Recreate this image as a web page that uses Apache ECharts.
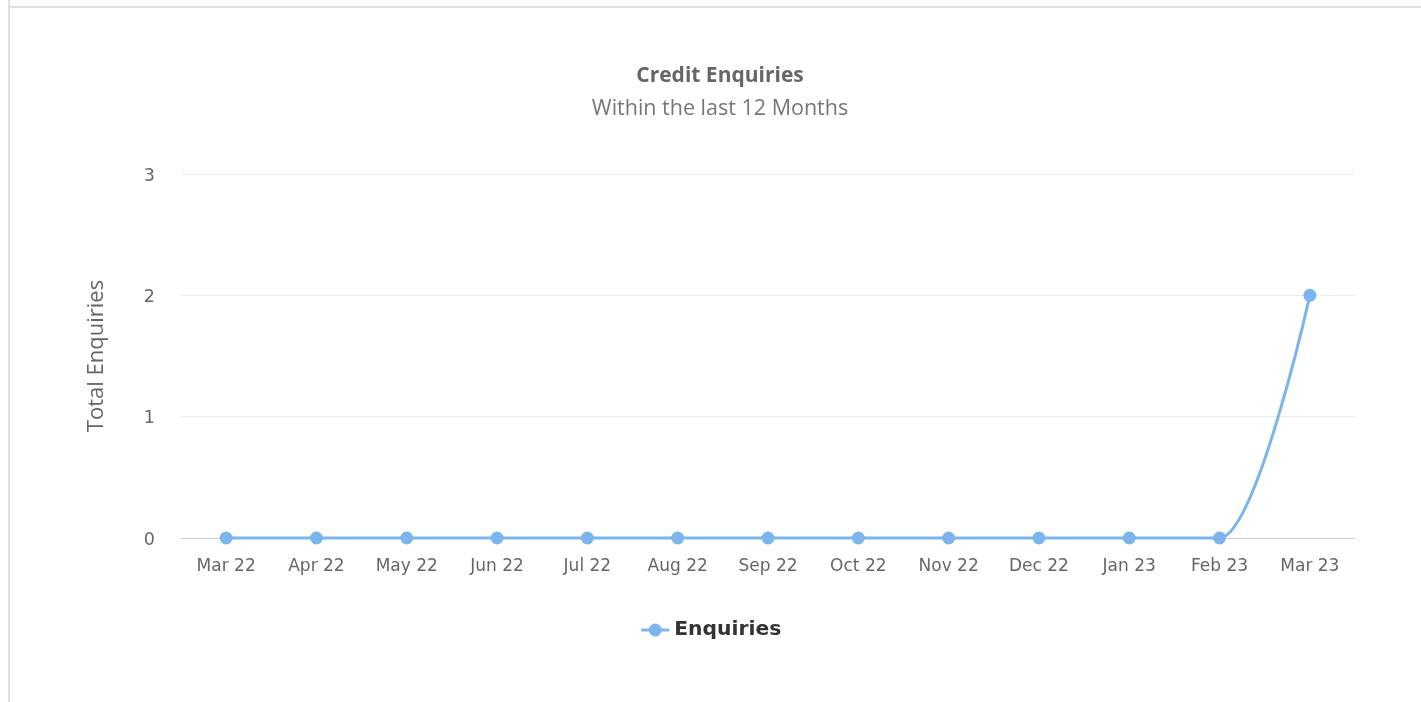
<!DOCTYPE html>
<html><head><meta charset="utf-8">
<script src="https://cdn.jsdelivr.net/npm/echarts@6/dist/echarts.min.js"></script>
<style>
html,body{margin:0;padding:0;background:#fff;}
#wrap{position:absolute;left:0;top:0;width:1421px;height:702px;}
#vline{position:absolute;left:8px;top:0;width:2px;height:702px;background:#e0e0e0;}
#hline{position:absolute;left:10px;top:6px;right:0;height:2px;background:#e0e0e0;}
#chart{position:absolute;left:0;top:0;width:1421px;height:702px;}
</style></head>
<body><div id="wrap"><div id="vline"></div><div id="hline"></div><div id="chart"></div></div>
<script>
const categories = ['Mar 22','Apr 22','May 22','Jun 22','Jul 22','Aug 22','Sep 22','Oct 22','Nov 22','Dec 22','Jan 23','Feb 23','Mar 23'];
const enquiries = [0,0,0,0,0,0,0,0,0,0,0,0,2];
const yTicks = [0,1,2,3];
const LINE_COLOR = '#7cb5ec';

// Highcharts-style spline control points, computed in pixel space from the axis scales
function splineSegments(api){
  const pts = enquiries.map((v,i)=>api.coord([i, v]));
  const sm = 1.5, den = sm + 1;
  const right = [];
  const leftC = [];
  for (let i=0;i<pts.length;i++){
    const [x,y] = pts[i];
    const last = pts[i-1], next = pts[i+1];
    if (last && next){
      let lcx=(sm*x+last[0])/den, lcy=(sm*y+last[1])/den;
      let rcx=(sm*x+next[0])/den, rcy=(sm*y+next[1])/den;
      let corr=0;
      if (rcx!==lcx) corr=((rcy-lcy)*(rcx-x))/(rcx-lcx)+y-rcy;
      lcy+=corr; rcy+=corr;
      if (lcy>last[1] && lcy>y){ lcy=Math.max(last[1],y); rcy=2*y-lcy; }
      else if (lcy<last[1] && lcy<y){ lcy=Math.min(last[1],y); rcy=2*y-lcy; }
      if (rcy>next[1] && rcy>y){ rcy=Math.max(next[1],y); lcy=2*y-rcy; }
      else if (rcy<next[1] && rcy<y){ rcy=Math.min(next[1],y); lcy=2*y-rcy; }
      leftC[i]=[lcx,lcy]; right[i]=[rcx,rcy];
    } else { leftC[i]=[x,y]; right[i]=[x,y]; }
  }
  return {pts, leftC, right};
}

const chart = echarts.init(document.getElementById('chart'), null, {renderer:'canvas'});
chart.setOption({
  animation:false,
  title:{
    text:'Credit Enquiries',
    subtext:'Within the last 12 Months',
    left:715, textAlign:'center', top:61,
    itemGap:11,
    textStyle:{fontFamily:'Open Sans', fontWeight:'bold', fontSize:21, color:'#666'},
    subtextStyle:{fontFamily:'Open Sans', fontSize:21.5, color:'#777'}
  },
  legend:{
    data:['Enquiries'], left:'center', top:615, itemWidth:28, itemHeight:16,
    textStyle:{fontFamily:'DejaVu Sans', fontWeight:'bold', fontSize:20.3, color:'#333'},
    lineStyle:{color:LINE_COLOR, width:3, opacity:1},
    itemGap:10
  },
  grid:{left:181, right:66, top:174, bottom:164, containLabel:false},
  xAxis:{
    type:'category', data:categories, boundaryGap:true,
    axisLine:{lineStyle:{color:'#ccc', width:1}},
    axisTick:{show:false},
    axisLabel:{fontFamily:'DejaVu Sans', fontSize:17, color:'#666', margin:20}
  },
  yAxis:{
    type:'value', min:yTicks[0], max:yTicks[yTicks.length-1], interval:1,
    name:'Total Enquiries', nameLocation:'middle', nameGap:73,
    nameTextStyle:{fontFamily:'Open Sans', fontSize:22, color:'#666'},
    axisLine:{show:false}, axisTick:{show:false},
    axisLabel:{color:'#666', margin:26, formatter:'{a|{value}}',
      rich:{a:{fontFamily:'DejaVu Sans', fontSize:17.5, color:'#666', padding:[4,0,0,0]}}},
    splitLine:{lineStyle:{color:'#ebebeb', width:1}}
  },
  series:[{
    name:'spline', type:'custom', data:enquiries.map((v,i)=>[i,v]), z:1, silent:true,
    renderItem:function(params, api){
      const i = params.dataIndex;
      if (i===0) return null;
      const s = splineSegments(api);
      const p0=s.pts[i-1], p1=s.pts[i], c1=s.right[i-1], c2=s.leftC[i];
      return {type:'bezierCurve', shape:{x1:p0[0],y1:p0[1],x2:p1[0],y2:p1[1],cpx1:c1[0],cpy1:c1[1],cpx2:c2[0],cpy2:c2[1]},
        style:{stroke:LINE_COLOR, lineWidth:3, fill:null}};
    }
  },{
    name:'Enquiries', type:'line', data:enquiries, z:2,
    symbol:'circle', symbolSize:13,
    lineStyle:{color:LINE_COLOR, width:0, opacity:0},
    itemStyle:{color:LINE_COLOR}
  }]
});
</script></body></html>
